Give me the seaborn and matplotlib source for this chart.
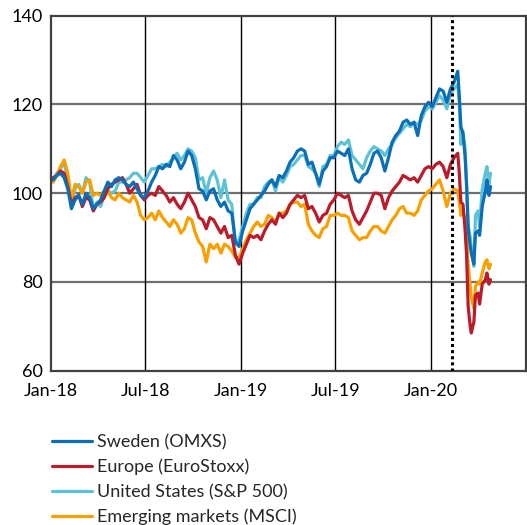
import pandas as pd
import matplotlib
matplotlib.use('Agg')
import matplotlib.pyplot as plt
import seaborn as sns

# weekly (Friday) observations Jan 2018 - Feb 21 2020, then denser points through the crash
weekly_dates = pd.date_range('2018-01-05', '2020-02-21', freq='W-FRI')
crash_dates = pd.to_datetime(['2020-02-24', '2020-02-27', '2020-03-02', '2020-03-06', '2020-03-09',
                              '2020-03-12', '2020-03-16', '2020-03-18', '2020-03-23', '2020-03-26',
                              '2020-03-31', '2020-04-03', '2020-04-08', '2020-04-14', '2020-04-17',
                              '2020-04-21', '2020-04-24'])

sweden = [
    # 2018
    103.0, 104.0, 104.5, 103.5, 101.0, 96.5, 98.5, 99.5, 97.5, 100.0, 99.0, 96.5, 97.5,
    98.5, 100.5, 102.5, 101.5, 103.0, 103.5, 103.0, 102.0, 101.5, 102.5, 101.0, 99.5, 99.0,
    100.5, 102.5, 104.0, 106.0, 105.5, 106.5, 106.0, 108.5, 107.5, 105.5, 107.0, 109.5, 108.5,
    105.5, 101.0, 100.5, 98.5, 100.5, 101.0, 98.5, 97.0, 98.0, 96.0, 95.5, 89.0, 88.0,
    # 2019
    91.5, 94.0, 96.5, 97.5, 98.5, 99.5, 100.5, 102.0, 103.0, 101.5, 104.0, 103.5, 105.0,
    107.0, 108.0, 109.5, 110.0, 109.5, 106.5, 107.0, 104.5, 102.0, 105.0, 106.0, 108.0, 108.0,
    109.5, 109.0, 108.5, 110.0, 105.5, 103.0, 102.5, 104.0, 104.5, 106.5, 109.0, 109.5, 108.0,
    105.0, 108.0, 111.5, 113.0, 114.0, 116.0, 116.5, 115.5, 116.0, 113.0, 117.5, 119.5, 120.5,
    # 2020
    119.5, 121.5, 123.5, 123.0, 120.5, 123.5, 125.0, 127.5,
]
sweden_crash = [122.0, 115.0, 113.5, 108.5, 102.0, 92.0, 88.0, 86.5, 84.0, 91.0,
                91.5, 90.5, 97.0, 100.5, 103.0, 99.5, 101.5]

europe = [
    103.5, 104.0, 105.0, 104.5, 101.5, 97.5, 99.0, 99.5, 97.0, 99.0, 98.5, 96.0, 97.5,
    98.0, 99.0, 101.0, 102.0, 102.5, 103.0, 103.5, 102.0, 100.0, 101.0, 102.0, 99.5, 98.5,
    99.5, 100.0, 99.5, 101.5, 100.5, 99.5, 98.0, 99.0, 97.5, 96.5, 98.0, 100.0, 98.5,
    97.0, 94.5, 94.0, 92.0, 94.5, 94.0, 92.5, 91.0, 92.5, 90.0, 90.5, 86.0, 84.0,
    86.5, 88.5, 90.5, 90.0, 90.5, 89.5, 91.5, 93.0, 94.0, 93.0, 95.5, 94.5, 95.5,
    97.5, 98.5, 99.5, 99.0, 99.5, 96.5, 97.0, 95.5, 93.5, 95.0, 95.5, 97.5, 98.5,
    100.0, 99.5, 99.0, 99.5, 96.0, 94.0, 93.0, 94.5, 96.0, 98.0, 100.0, 100.0, 99.5,
    96.5, 99.0, 100.5, 101.5, 102.5, 104.0, 103.5, 103.0, 103.5, 102.5, 104.0, 105.5, 106.0,
    105.5, 106.5, 107.0, 106.0, 103.5, 106.5, 108.0, 109.0,
]
europe_crash = [104.5, 98.0, 97.5, 92.0, 86.0, 74.5, 70.0, 68.5, 71.0, 77.0,
                77.5, 75.0, 79.5, 80.5, 82.0, 79.5, 80.5]

usa = [
    103.0, 104.5, 105.5, 107.0, 103.0, 97.5, 101.0, 102.0, 100.0, 103.5, 102.5, 96.5, 98.0,
    97.0, 99.5, 100.5, 100.0, 100.5, 102.5, 102.5, 103.0, 103.5, 104.5, 104.5, 103.5, 102.5,
    104.0, 105.5, 105.5, 106.0, 106.5, 106.0, 107.0, 108.0, 109.0, 107.5, 108.5, 110.0, 109.5,
    108.0, 103.0, 103.5, 100.0, 103.5, 105.0, 103.0, 99.0, 103.0, 98.5, 97.5, 88.5, 89.5,
    92.5, 95.5, 97.5, 97.5, 99.0, 99.0, 101.5, 102.5, 103.0, 100.5, 103.5, 102.5, 104.0,
    106.0, 106.5, 107.5, 108.5, 108.5, 106.0, 105.5, 104.5, 101.5, 106.0, 106.5, 108.5, 108.5,
    110.5, 111.5, 111.0, 112.0, 108.5, 107.5, 106.5, 105.5, 108.0, 109.5, 110.5, 110.0, 109.5,
    108.5, 110.0, 111.0, 112.5, 113.5, 114.5, 115.5, 115.0, 116.0, 115.5, 116.5, 118.5, 119.5,
    119.0, 120.5, 122.0, 121.0, 119.0, 122.5, 123.5, 124.5,
]
usa_crash = [120.5, 111.0, 114.0, 110.0, 101.5, 93.0, 90.0, 88.0, 83.5, 95.0,
             96.0, 92.5, 101.0, 104.5, 106.0, 102.0, 104.5]

emerging = [
    102.5, 104.0, 106.0, 107.5, 104.5, 98.5, 102.0, 101.5, 100.0, 102.5, 103.0, 99.5, 100.0,
    99.5, 100.5, 100.5, 99.0, 98.5, 100.0, 99.0, 98.5, 98.0, 99.5, 98.0, 95.0, 94.0,
    94.5, 95.5, 94.0, 96.0, 94.5, 93.5, 92.5, 94.0, 93.0, 91.0, 92.0, 94.5, 94.0,
    91.0, 89.0, 88.0, 84.5, 88.5, 87.5, 88.5, 86.5, 88.5, 88.0, 87.0, 85.5, 85.5,
    87.5, 89.5, 91.0, 92.5, 93.5, 92.5, 93.0, 95.0, 94.5, 93.5, 95.5, 95.5, 96.0,
    97.5, 98.0, 98.0, 97.0, 97.5, 93.0, 91.5, 90.5, 90.0, 92.0, 92.5, 95.0, 95.0,
    95.5, 95.0, 95.0, 94.5, 91.5, 90.5, 89.5, 90.0, 90.0, 91.5, 92.5, 92.5, 91.5,
    91.0, 92.5, 94.0, 95.0, 96.5, 97.0, 95.5, 95.5, 95.0, 96.0, 98.5, 99.5, 100.5,
    101.0, 102.0, 103.0, 100.5, 97.0, 100.0, 101.0, 100.5,
]
emerging_crash = [98.0, 95.0, 95.5, 94.5, 90.0, 84.0, 79.0, 76.5, 74.0, 79.0,
                  80.0, 79.5, 82.0, 84.5, 85.0, 83.0, 84.0]

labels = ['Sweden (OMXS)', 'Europe (EuroStoxx)', 'United States (S&P 500)', 'Emerging markets (MSCI)']
colors = ['#0B6FB8', '#BA1C2C', '#5EC2D7', '#F7A000']
tick_dates = pd.to_datetime(['2018-01-01', '2018-07-01', '2019-01-01', '2019-07-01', '2020-01-01'])
tick_labels = ['Jan-18', 'Jul-18', 'Jan-19', 'Jul-19', 'Jan-20']
marker_date = pd.Timestamp('2020-02-10')

dates = weekly_dates.append(crash_dates)
df = pd.DataFrame({
    'date': dates,
    labels[0]: sweden + sweden_crash,
    labels[1]: europe + europe_crash,
    labels[2]: usa + usa_crash,
    labels[3]: emerging + emerging_crash,
})

sns.set_theme(style='white')
plt.rcParams['font.family'] = ['Lato', 'DejaVu Sans']

fig = plt.figure(figsize=(5.27, 5.25), dpi=100)
ax = fig.add_axes([0.097, 0.294, 0.901, 0.676])

# drawing order: US and EM underneath, Sweden on top
handles = {}
for i in [2, 3, 1, 0]:
    sns.lineplot(x='date', y=labels[i], data=df, color=colors[i], linewidth=2.3, ax=ax, label=labels[i])
    handles[labels[i]] = ax.get_lines()[-1]

ax.axvline(marker_date, color='black', linestyle=(0, (1, 1)), linewidth=2.2, zorder=5)

ax.set_xlim(pd.Timestamp('2018-01-01'), pd.Timestamp('2020-07-01'))
ax.set_ylim(60, 140)
ax.set_yticks([60, 80, 100, 120, 140])
ax.set_xticks(tick_dates)
ax.set_xticklabels(tick_labels)
ax.set_xlabel('')
ax.set_ylabel('')
ax.tick_params(axis='both', labelsize=13, colors='black', length=0)
ax.tick_params(axis='x', pad=9)
ax.tick_params(axis='y', pad=6)

for y in [80, 100, 120]:
    ax.axhline(y, color='#6e6e6e', linewidth=1.6, zorder=0)
for d in tick_dates[1:]:
    ax.axvline(d, color='black', linewidth=1.0, zorder=0)
for s in ax.spines.values():
    s.set_visible(True)
    s.set_color('#404040')
    s.set_linewidth(1.6)

ax.legend([handles[l] for l in labels], labels, loc='upper left', bbox_to_anchor=(0.099, 0.173),
          bbox_transform=fig.transFigure, frameon=False, fontsize=13, handlelength=2.2,
          handletextpad=0.3, labelspacing=0.47, borderaxespad=0, borderpad=0)

fig.savefig('out.png', dpi=100)
